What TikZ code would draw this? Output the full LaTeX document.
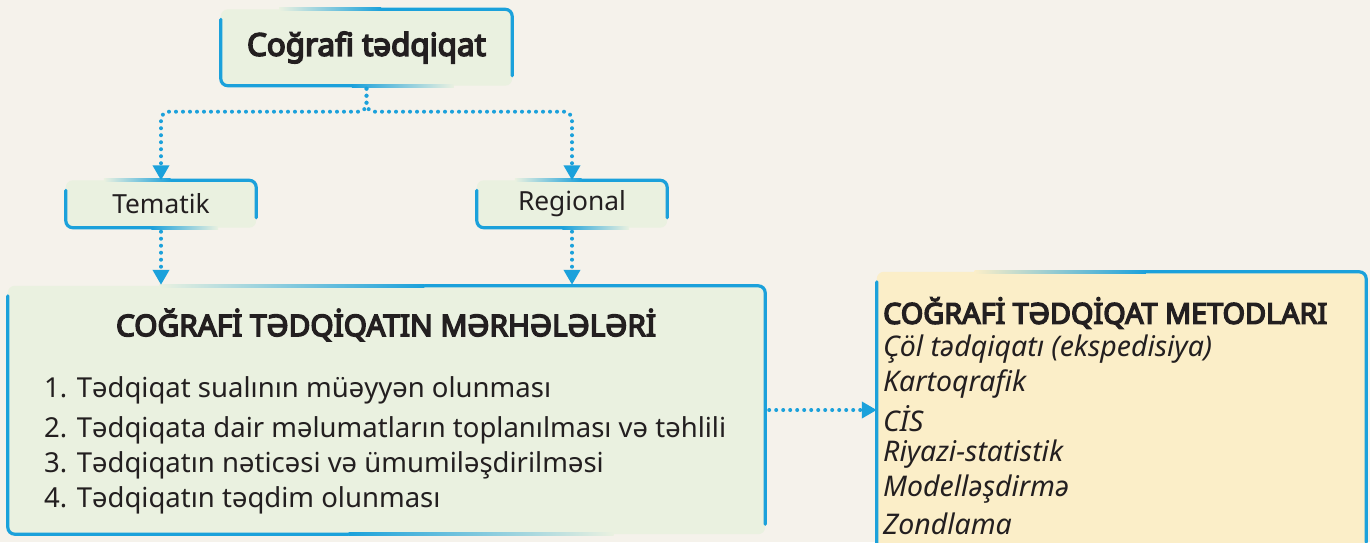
\documentclass[tikz,border=0pt]{standalone}
\usepackage{fontspec}
\setmainfont{Noto Sans}[BoldFont={Noto Sans}, BoldFeatures={FakeBold=5}]
\usetikzlibrary{arrows.meta,calc}
\definecolor{bg}{HTML}{F5F2EB}
\definecolor{gfill}{HTML}{EAF1E0}
\definecolor{yfill}{HTML}{FBEEC8}
\definecolor{bl}{HTML}{1BA1DB}
\definecolor{tx}{HTML}{231F20}
\newlength\fitlen
\newcommand{\fitsize}[3]{%
  \settowidth{\fitlen}{\fontsize{20}{24}\selectfont #3}%
  \pgfmathsetmacro#1{20*#2/\fitlen}}
\AtBeginDocument{%
\fitsize{\szT}{239}{\bfseries Coğrafi tədqiqat}%
\fitsize{\szS}{108}{Regional}%
\fitsize{\szB}{540}{\bfseries COĞRAFİ TƏDQİQATIN MƏRHƏLƏLƏRİ}%
\fitsize{\szL}{682}{2. Tədqiqata dair məlumatların toplanılması və təhlili}%
\fitsize{\szR}{444}{\bfseries COĞRAFİ TƏDQİQAT METODLARI}%
\fitsize{\szI}{329}{\itshape Çöl tədqiqatı (ekspedisiya)}%
}
\tikzset{
  dotarrow/.style={bl, line width=4pt, line cap=round, dash pattern=on 0pt off 7pt,
    -{Triangle[width=16pt,length=15pt,line cap=butt]}, shorten >=0pt},
  boxnode/.style={inner sep=0pt, text=tx},
  txt/.style={inner sep=0pt, text=tx, anchor=west}
}
\newcommand{\fancybox}[2]{%
  \fill[#1, rounded corners=7pt] (#2.north west) rectangle (#2.south east);
  \path let \p1=(#2.north west), \p2=(#2.south east) in
    coordinate (fbA) at (\x1+0.45*\x2-0.45*\x1, \y2)
    coordinate (fbB) at (\x1+0.8*\x2-0.8*\x1, \y2)
    coordinate (fbC) at (\x2-0.45*\x2+0.45*\x1, \y1)
    coordinate (fbD) at (\x2-0.8*\x2+0.8*\x1, \y1);
  \draw[bl, line width=3.2pt, rounded corners=7pt, line cap=round]
     ($(#2.north west)+(0,10)$) -- (#2.south west) -- (fbA);
  \shade[left color=bl, right color=#1] ($(fbA)+(0,-1.6)$) rectangle ($(fbB)+(0,1.6)$);
  \draw[bl, line width=3.2pt, rounded corners=7pt, line cap=round]
     ($(#2.south east)+(0,-10)$) -- (#2.north east) -- (fbC);
  \shade[right color=bl, left color=#1] ($(fbD)+(0,-1.6)$) rectangle ($(fbC)+(0,1.6)$);
}
\begin{document}
\begin{tikzpicture}[x=1pt,y=-1pt]
\useasboundingbox (0,0) rectangle (1370,542);
\fill[bg] (0,0) rectangle (1370,542);

\node[boxnode, minimum width=291pt, minimum height=76pt] (top) at (366.5,47.5) {};
\node[boxnode, minimum width=190pt, minimum height=47pt] (tem) at (161,204) {};
\node[boxnode, minimum width=190pt, minimum height=47pt] (reg) at (572,204) {};
\node[boxnode, minimum width=757pt, minimum height=248pt] (big) at (386.5,410) {};
\node[boxnode, minimum width=489pt, minimum height=280pt] (met) at (1121.5,412) {};

\fancybox{gfill}{top}
\fancybox{gfill}{tem}
\fancybox{gfill}{reg}
\fancybox{gfill}{big}
\fancybox{yfill}{met}

\node[boxnode, font=\fontsize{\szT}{36}\selectfont\bfseries] (topt) at (top) {Coğrafi tədqiqat};
\node[boxnode, font=\fontsize{\szS}{30}\selectfont] (temt) at (tem) {Tematik};
\node[boxnode, font=\fontsize{\szS}{30}\selectfont] (regt) at (reg) {Regional};

\node[boxnode, font=\fontsize{\szB}{34}\selectfont\bfseries] (bigt) at (386,325) {COĞRAFİ TƏDQİQATIN MƏRHƏLƏLƏRİ};
\node[txt, font=\fontsize{\szL}{32}\selectfont] (s1) at (44,390) {1. Tədqiqat sualının müəyyən olunması};
\node[txt, font=\fontsize{\szL}{32}\selectfont] (s2) at (44,430) {2. Tədqiqata dair məlumatların toplanılması və təhlili};
\node[txt, font=\fontsize{\szL}{32}\selectfont] (s3) at (44,465) {3. Tədqiqatın nəticəsi və ümumiləşdirilməsi};
\node[txt, font=\fontsize{\szL}{32}\selectfont] (s4) at (44,500) {4. Tədqiqatın təqdim olunması};

\node[txt, font=\fontsize{\szR}{32}\selectfont\bfseries] (mt) at (883,313) {COĞRAFİ TƏDQİQAT METODLARI};
\node[txt, font=\fontsize{\szI}{32}\selectfont\itshape] (m1) at (883,349) {Çöl tədqiqatı (ekspedisiya)};
\node[txt, font=\fontsize{\szI}{32}\selectfont\itshape] (m2) at (883,384) {Kartoqrafik};
\node[txt, font=\fontsize{\szI}{32}\selectfont\itshape] (m3) at (883,419) {CİS};
\node[txt, font=\fontsize{\szI}{32}\selectfont\itshape] (m4) at (883,454) {Riyazi-statistik};
\node[txt, font=\fontsize{\szI}{32}\selectfont\itshape] (m5) at (883,489) {Modelləşdirmə};
\node[txt, font=\fontsize{\szI}{32}\selectfont\itshape] (m6) at (883,524) {Zondlama};

\draw[dotarrow, rounded corners=8pt] ($(top.south)+(0,3)$) -- ++(0,23) -| (tem.north);
\draw[dotarrow, rounded corners=8pt] ($(top.south)+(0,3)$) -- ++(0,23) -| (reg.north);
\draw[dotarrow] ($(tem.south)+(0,4)$) -- ($(big.north) + (-386.5+161,-1)$);
\draw[dotarrow] ($(reg.south)+(0,4)$) -- ($(big.north) + (-386.5+572,-1)$);
\draw[dotarrow] ($(big.east)+(4,0)$) -- (met.west |- big.east);
\end{tikzpicture}
\end{document}
